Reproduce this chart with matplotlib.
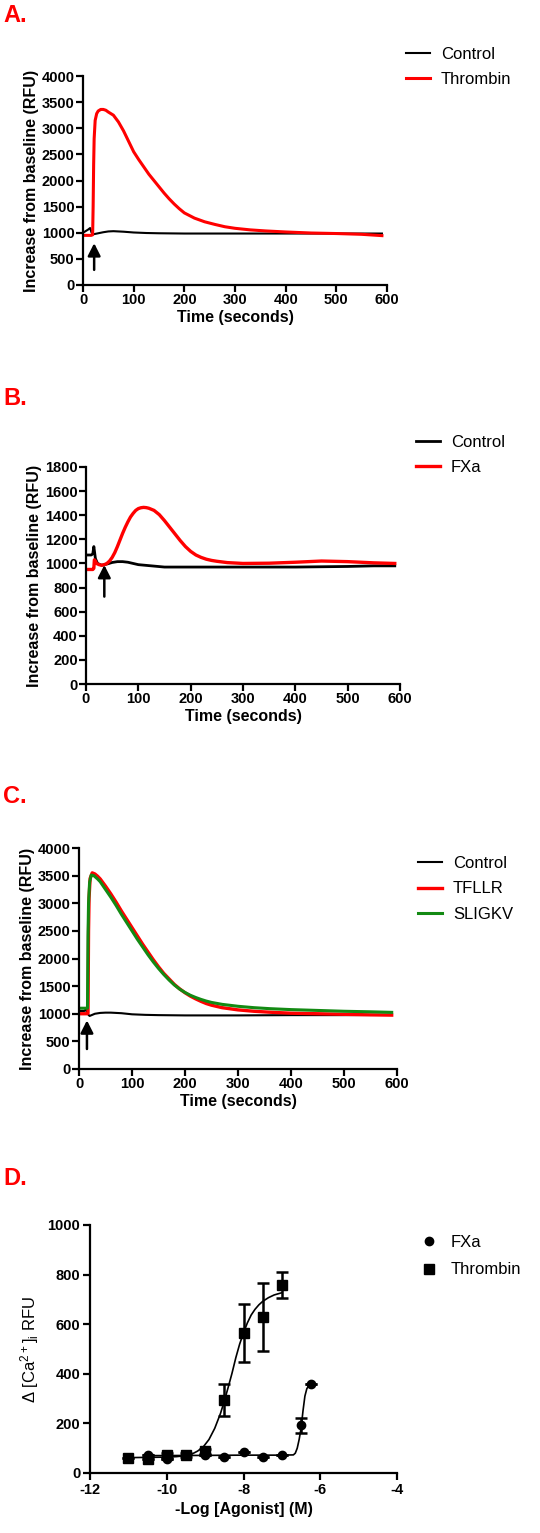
import matplotlib
matplotlib.use("Agg")
import matplotlib.pyplot as plt
import numpy as np

plt.rcParams['font.family'] = ['Liberation Sans', 'DejaVu Sans']
plt.rcParams['axes.unicode_minus'] = False
plt.rcParams['mathtext.default'] = 'regular'

# ---------------- data ----------------
# A: thrombin
a_ctrl_t = [0, 10, 14, 17, 20, 25, 30, 40, 50, 60, 70, 80, 100, 125, 150, 200, 300, 400, 500, 590]
a_ctrl_v = [1000, 1060, 1090, 1000, 970, 980, 990, 1010, 1025, 1030, 1025, 1020, 1005, 995, 990,
            985, 985, 985, 985, 985]
a_thr_t = [0, 16, 19, 20, 21, 22, 24, 27, 30, 35, 40, 45, 50, 60, 70, 80, 90, 100, 110, 120, 130,
           140, 150, 160, 170, 180, 190, 200, 220, 240, 260, 280, 300, 330, 360, 400, 450, 500,
           550, 590]
a_thr_v = [950, 950, 960, 1500, 2300, 2800, 3150, 3280, 3330, 3360, 3360, 3345, 3310, 3250, 3120,
           2950, 2750, 2550, 2400, 2260, 2120, 2000, 1880, 1760, 1650, 1550, 1460, 1380, 1280,
           1210, 1160, 1115, 1085, 1055, 1035, 1015, 995, 985, 970, 945]

# B: FXa
b_ctrl_t = [0, 10, 13, 15, 18, 22, 30, 40, 50, 60, 70, 80, 90, 100, 125, 150, 200, 300, 400,
            500, 550, 590]
b_ctrl_v = [1070, 1070, 1080, 1140, 1040, 1000, 985, 995, 1008, 1015, 1015, 1010, 1000, 990, 980,
            970, 970, 970, 970, 975, 980, 980]
b_fxa_t = [0, 13, 15, 16, 18, 20, 25, 30, 35, 40, 45, 50, 55, 60, 65, 70, 75, 80, 85, 90, 95,
           100, 105, 110, 115, 120, 130, 140, 150, 160, 170, 180, 190, 200, 210, 220, 230, 240,
           250, 270, 300, 350, 400, 450, 500, 550, 590]
b_fxa_v = [950, 950, 960, 1030, 1020, 1000, 990, 985, 990, 1000, 1020, 1050, 1090, 1140, 1195,
           1250, 1300, 1345, 1385, 1415, 1440, 1455, 1462, 1465, 1463, 1458, 1440, 1405, 1355,
           1300, 1245, 1190, 1140, 1100, 1070, 1050, 1035, 1025, 1018, 1007, 1000, 1002, 1010,
           1020, 1015, 1005, 1000]

# C: PAR peptides
c_ctrl_t = [0, 10, 13, 16, 20, 25, 30, 40, 50, 60, 70, 80, 100, 125, 150, 200, 300, 400, 500, 590]
c_ctrl_v = [1050, 1050, 1080, 1000, 960, 980, 1000, 1015, 1020, 1020, 1015, 1010, 990, 980, 975,
            970, 970, 975, 975, 980]
c_tfllr_t = [0, 15, 17, 18, 19, 21, 25, 30, 35, 40, 50, 60, 70, 80, 90, 100, 110, 120, 130, 140,
             150, 160, 170, 180, 190, 200, 210, 220, 230, 240, 250, 270, 300, 330, 360, 400, 450,
             500, 550, 590]
c_tfllr_v = [1000, 1000, 1010, 2500, 3100, 3450, 3550, 3530, 3490, 3440, 3310, 3170, 3020, 2860,
             2710, 2560, 2410, 2260, 2120, 1980, 1850, 1730, 1630, 1530, 1450, 1380, 1320, 1270,
             1225, 1185, 1155, 1110, 1070, 1045, 1028, 1010, 1000, 990, 980, 975]
c_sligkv_t = [0, 14, 16, 17, 18, 20, 23, 28, 35, 40, 50, 60, 70, 80, 90, 100, 110, 120, 130, 140,
              150, 160, 170, 180, 190, 200, 210, 220, 230, 240, 250, 270, 300, 330, 360, 400, 450,
              500, 550, 590]
c_sligkv_v = [1100, 1100, 1100, 2400, 3000, 3380, 3510, 3500, 3440, 3390, 3250, 3110, 2960, 2800,
              2650, 2500, 2350, 2210, 2070, 1940, 1820, 1710, 1610, 1520, 1445, 1385, 1335, 1295,
              1260, 1230, 1205, 1170, 1135, 1110, 1092, 1075, 1060, 1045, 1035, 1025]

# D: concentration-response
d_thr_x = [-11, -10.5, -10, -9.5, -9, -8.5, -8, -7.5, -7]
d_thr_y = [60, 58, 72, 72, 88, 295, 565, 630, 758]
d_thr_e = [0, 0, 10, 8, 10, 65, 116, 137, 54]
d_fxa_x = [-10.5, -10, -9, -8.5, -8, -7.5, -7, -6.5, -6.25]
d_fxa_y = [74, 58, 74, 64, 83, 64, 74, 192, 358]
d_fxa_e = [0, 0, 0, 0, 0, 0, 0, 30, 0]
# fitted curves as drawn in the figure
d_thr_fit_x = [-11, -10.5, -10, -9.75, -9.5, -9.35, -9.2, -9.05, -8.9, -8.75, -8.6, -8.5, -8.4,
               -8.3, -8.2, -8.1, -8.0, -7.9, -7.8, -7.7, -7.6, -7.5, -7.35, -7.2, -7.0]
d_thr_fit_y = [62, 63, 64, 66, 70, 76, 88, 105, 135, 180, 240, 290, 345, 402, 465, 520, 565, 605,
               637, 660, 678, 692, 707, 718, 727]
d_fxa_fit_x = [-10.5, -9, -8, -7, -6.7, -6.65, -6.6, -6.55, -6.5, -6.45, -6.4, -6.35, -6.3, -6.25]
d_fxa_fit_y = [70, 71, 72, 72, 73, 80, 100, 135, 180, 250, 310, 340, 352, 358]

RED = '#ff0000'
GREEN = '#138a13'

fig = plt.figure(figsize=(5.4, 15.33), dpi=100)
W, H = 540.0, 1533.0


def add_ax(l, r, t, b):
    return fig.add_axes([l / W, 1 - b / H, (r - l) / W, (b - t) / H])


def style(ax, yticks, ylim):
    for s in ['top', 'right']:
        ax.spines[s].set_visible(False)
    for s in ['left', 'bottom']:
        ax.spines[s].set_linewidth(1.6)
    ax.tick_params(width=1.6, length=5, labelsize=10.5, pad=1)
    ax.set_xlim(0, 600)
    ax.set_ylim(*ylim)
    ax.set_xticks(range(0, 601, 100))
    ax.set_yticks(yticks)
    for lab in ax.get_xticklabels() + ax.get_yticklabels():
        lab.set_fontweight('bold')
    ax.set_xlabel('Time (seconds)', fontsize=11.5, fontweight='bold', labelpad=2)
    ax.set_ylabel('Increase from baseline (RFU)', fontsize=11.5, fontweight='bold', labelpad=2)


def arrow(ax, x, y0, y1):
    ax.annotate('', xy=(x, y1), xytext=(x, y0),
                arrowprops=dict(arrowstyle='-|>,head_width=0.38,head_length=0.75',
                                color='black', lw=1.8, shrinkA=0, shrinkB=0))


def legend(ax, x, y):
    return ax.legend(loc='upper left', bbox_to_anchor=(x / W, 1 - y / H),
                     bbox_transform=fig.transFigure, frameon=False, fontsize=12,
                     handlelength=1.45, handletextpad=0.65, borderpad=0,
                     borderaxespad=0, labelspacing=0.62)


# ---------------- A ----------------
fig.text(3 / W, 1 - 4 / H, 'A.', color=RED, fontsize=17, fontweight='bold', va='top')
ax = add_ax(83, 387, 76, 285)
ax.plot(a_ctrl_t, a_ctrl_v, color='black', lw=1.5, label='Control')
ax.plot(a_thr_t, a_thr_v, color=RED, lw=2.2, label='Thrombin')
style(ax, range(0, 4001, 500), (0, 4000))
arrow(ax, 22, 290, 800)
legend(ax, 406, 47)

# ---------------- B ----------------
fig.text(3 / W, 1 - 387 / H, 'B.', color=RED, fontsize=17, fontweight='bold', va='top')
ax = add_ax(86, 400, 467, 684)
ax.plot(b_ctrl_t, b_ctrl_v, color='black', lw=2.0, label='Control')
ax.plot(b_fxa_t, b_fxa_v, color=RED, lw=2.4, label='FXa')
style(ax, range(0, 1801, 200), (0, 1800))
arrow(ax, 35, 725, 987)
legend(ax, 416, 435)

# ---------------- C ----------------
fig.text(3 / W, 1 - 785 / H, 'C.', color=RED, fontsize=17, fontweight='bold', va='top')
ax = add_ax(79, 397, 848, 1069)
ax.plot(c_ctrl_t, c_ctrl_v, color='black', lw=1.5, label='Control')
ax.plot(c_tfllr_t, c_tfllr_v, color=RED, lw=2.4, label='TFLLR')
ax.plot(c_sligkv_t, c_sligkv_v, color=GREEN, lw=2.2, label='SLIGKV')
style(ax, range(0, 4001, 500), (0, 4000))
arrow(ax, 15, 362, 880)
legend(ax, 418, 856)

# ---------------- D ----------------
fig.text(3 / W, 1 - 1167 / H, 'D.', color=RED, fontsize=17, fontweight='bold', va='top')
ax = add_ax(90, 397, 1225, 1473)
ax.plot(d_fxa_fit_x, d_fxa_fit_y, color='black', lw=1.2)
ax.plot(d_thr_fit_x, d_thr_fit_y, color='black', lw=1.2)
ax.errorbar(d_fxa_x, d_fxa_y, yerr=d_fxa_e, fmt='o', color='black', ms=6,
            capsize=4, elinewidth=1.8, capthick=1.8, label='FXa')
ax.errorbar(d_thr_x, d_thr_y, yerr=d_thr_e, fmt='s', color='black', ms=7,
            capsize=4, elinewidth=1.8, capthick=1.8, label='Thrombin')
for s in ['top', 'right']:
    ax.spines[s].set_visible(False)
for s in ['left', 'bottom']:
    ax.spines[s].set_linewidth(1.6)
ax.set_xlim(-12, -4)
ax.set_ylim(0, 1000)
ax.set_xticks(range(-12, -3, 2))
ax.set_yticks(range(0, 1001, 200))
ax.tick_params(width=1.6, length=5, labelsize=10.5, pad=2)
for lab in ax.get_xticklabels() + ax.get_yticklabels():
    lab.set_fontweight('bold')
ax.set_xlabel('-Log [Agonist] (M)', fontsize=11.5, fontweight='bold', labelpad=4)
ax.set_ylabel('$\\Delta$ [Ca$^{2+}$]$_i$ RFU', fontsize=12, labelpad=5)
h, l = ax.get_legend_handles_labels()
h = [hh[0] for hh in h]
ax.legend(h, l, loc='upper left', bbox_to_anchor=(422 / W, 1 - 1235 / H),
          bbox_transform=fig.transFigure, frameon=False, fontsize=12,
          handlelength=0.8, handletextpad=0.9, borderpad=0, borderaxespad=0,
          labelspacing=0.75)

fig.savefig('out.png', dpi=100)
